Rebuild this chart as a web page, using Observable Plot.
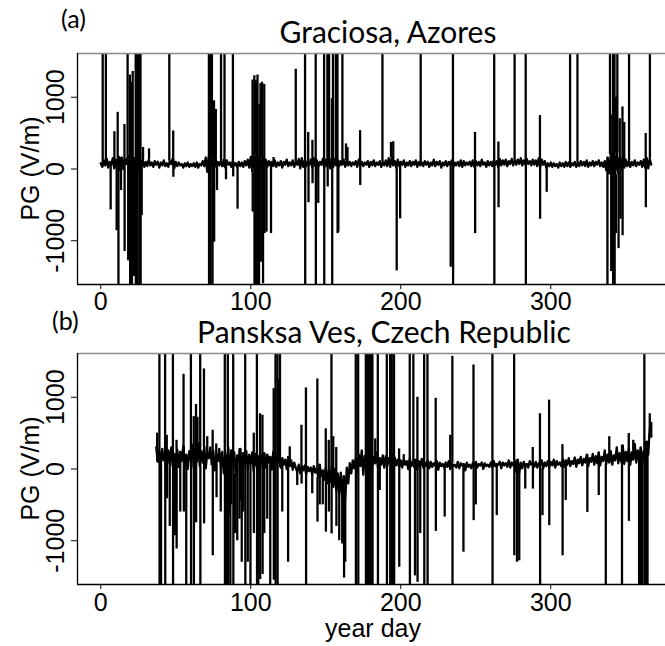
<!DOCTYPE html>
<html><head><meta charset="utf-8">
<script src="https://cdn.jsdelivr.net/npm/d3@7"></script>
<script src="https://cdn.jsdelivr.net/npm/@observablehq/plot@0.6"></script>
<style>
body{margin:0;background:#fff;}
#wrap{position:relative;width:665px;height:646px;overflow:hidden;background:#fff;}
.pane{position:absolute;left:0;}
#over{position:absolute;left:0;top:0;pointer-events:none;}
</style></head><body><div id="wrap"></div>
<script>
const xTicks = [0, 100, 200, 300];
const yTicks = [-1000, 0, 1000];
const xDomain = [-15.5, 376.5];
const yDomain = [-1610, 1610];

// Panel (a) Graciosa: daily PG values from day 0
const startA = 0;
const baseA = [
 80,30,120,50,140,20,100,60,150,10,
 130,40,170,-20,160,0,140,70,180,-40,
 190,-10,150,30,200,-30,160,60,120,30,
 100,40,130,50,90,30,110,60,100,20,
 90,50,120,40,80,30,110,70,150,10,
 100,40,90,50,70,20,80,40,90,30,
 70,40,80,30,90,20,70,50,110,40,
 160,-40,180,10,140,60,120,30,100,50,
 110,40,130,20,120,60,90,30,110,50,
 80,20,100,40,90,30,110,50,130,20,
 170,-30,190,-60,200,-40,150,20,160,10,
 130,30,110,50,100,40,120,30,90,50,
 110,20,100,60,130,40,90,50,120,30,
 100,60,140,10,150,30,120,40,110,60,
 130,20,150,40,120,30,100,60,140,20,
 130,40,160,10,170,30,140,50,120,40,
 110,60,130,30,120,50,100,40,90,60,
 110,30,130,50,100,40,90,60,110,30,
 100,50,120,40,90,60,110,30,100,50,
 120,40,150,30,160,50,110,20,130,40,
 100,60,120,30,90,50,110,40,100,60,
 120,30,100,50,90,40,110,60,100,30,
 90,50,130,40,100,60,110,20,90,50,
 110,40,100,60,120,30,90,50,100,40,
 120,30,110,50,90,60,100,40,120,30,
 110,50,100,40,130,60,90,30,110,50,
 100,40,120,60,110,30,140,50,120,60,
 130,40,110,70,140,50,120,60,130,70,
 150,50,120,60,140,70,110,50,130,60,
 120,40,150,30,130,60,110,20,80,40,
 90,30,80,40,70,20,90,40,80,30,
 100,40,90,30,80,50,100,30,90,40,
 110,50,100,40,120,30,90,50,110,40,
 100,60,120,40,90,30,110,-20,160,-60,
 200,-100,240,-80,220,-50,180,0,160,20,
 130,40,110,30,100,50,120,40,90,60,
 110,30,130,20,150,10,140,60
];
// spikes (a): [year day, PG]
const spikesA = [
 [1.3,2500],[3.4,2500],[6.6,-570],[9.1,520],[10.6,-860],[11.3,790],[11.8,-2500],[13.5,-300],
 [15.8,620],[15.9,-1150],[17.9,2500],[18.3,-1280],[19.4,1310],[19.6,-2500],[20.3,1210],[20.8,-2500],[21.3,1360],[22.1,-1500],
 [23.3,2500],[23.4,-2500],[24.3,2500],[24.5,-2500],[25.4,2500],[25.8,-1900],[26.5,2500],[26.6,-2500],[27.3,-650],[28.2,300],
 [32.2,280],[45.7,2500],[48.3,530],[48.4,-115],
 [72.1,2500],[72.2,-2500],[73,2500],[73.2,-2500],[74.1,2500],[74.5,-1700],[75.5,950],[75.6,-1020],[76.7,830],[77.5,-300],
 [80.2,2500],[82.5,2500],[83.5,-150],[88.1,2500],[88.3,-110],[91.2,-560],
 [101.2,1240],[101.3,-600],[102.4,1300],[102.5,-2500],[103.5,1230],[103.6,-2500],[104.5,1310],[104.7,-2500],[105.5,-2500],[105.8,900],
 [106.5,1190],[106.7,-1300],[107.5,1210],[108.2,-1600],[109,1180],[109.2,-900],[110.5,-880],[113.5,-900],[115.2,160],
 [130,1390],[136.2,2500],[136.3,-2500],[138.3,510],[138.5,-470],[141.1,400],[141.2,-205],[143.3,2500],[143.4,-2500],[145,-480],
 [148.9,2500],[149,-2500],[151.1,2500],[151.3,-250],[152.2,2500],[154.1,980],[154.3,-2500],[154.8,2500],[156.7,2500],[157.8,2500],[157.9,-900],[158.4,-880],
 [161.1,2500],[163.5,350],[164.5,300],[172.9,535],[173,-230],[187.8,2500],[193.5,370],[195,380],[197.3,-1420],[199.6,-695],
 [213.3,2500],[233.3,-1370],[234.8,2500],[234.9,-2500],[249.5,510],[249.6,-900],[262.3,2500],[262.4,-2500],[265.1,376],[265.2,-540],
 [275.9,2500],[283.3,2500],[283.4,-2500],[292.8,745],[292.9,-700],[297.3,-325],[312.9,2500],[317.8,2500],
 [337.8,-2500],[339.5,2500],[340.3,-1430],[341,750],[341.5,2500],[341.6,-2500],[342.5,2500],[342.6,-2500],[343.4,-900],[343.6,1000],[344.4,2500],
 [345.2,-1110],[346,700],[346.5,-700],[347.8,865],[347.9,-930],[349,650],[352.2,2500],[363.3,495],[363.4,-540],[366.1,2500]
];

// Panel (b) Pansksa Ves: daily PG values from day 37
const startB = 37;
const baseB = [
 300,100,250,
 50,280,120,230,20,260,80,300,40,210,
 90,270,30,240,110,320,60,200,0,250,
 120,340,20,280,100,360,40,250,90,310,
 10,230,150,300,60,260,-20,200,110,280,
 30,240,-60,200,80,300,-100,260,50,230,
 -80,190,100,280,-40,220,60,250,10,200,
 80,230,-30,210,40,180,-60,190,70,220,
 20,200,90,170,-10,240,50,180,100,160,
 20,150,60,130,0,170,40,120,-10,90,
 20,-40,60,-60,40,-20,50,-70,30,-30,
 20,-80,40,-50,10,-120,60,-100,-20,-150,
 30,-200,-20,-180,50,-250,0,-300,-60,-350,
 -50,-400,-100,-450,20,-200,80,-60,120,10,
 150,-50,200,40,260,-80,180,60,250,-20,
 200,30,170,80,230,0,150,60,190,20,
 180,40,150,90,210,10,160,50,130,30,
 120,20,140,60,110,0,150,40,100,30,
 130,-10,110,50,140,20,90,40,120,10,
 100,30,80,50,110,-10,90,40,70,20,
 90,30,110,0,80,40,60,20,100,10,
 80,50,70,-20,90,30,60,10,80,40,
 100,20,70,50,90,0,80,40,60,30,
 90,20,110,40,70,60,100,10,90,50,
 80,30,120,20,90,50,110,-40,130,-60,
 90,10,100,40,70,20,110,60,90,30,
 100,20,80,50,120,10,90,40,110,30,
 100,50,130,20,110,60,90,40,140,30,
 120,60,150,40,110,70,160,30,130,80,
 170,50,140,90,200,40,150,100,210,60,
 180,80,230,50,170,110,260,70,200,90,
 250,60,190,120,300,80,220,100,330,70,
 240,110,290,60,230,130,350,90,260,120,
 300,80,250,150,380,200,600,450
];
// spikes (b): [year day, PG]
const spikesB = [
 [37.6,500],[39.1,2500],[39.2,-2500],[40.2,-2500],[42.9,2500],[43,-2500],[44,470],[44.2,-415],[46,-800],
 [48.1,2500],[48.2,-2500],[49.5,-930],[50.5,400],[50.6,-1115],[53,-600],[55.2,1320],[55.4,-600],[57,-2500],
 [60.1,2500],[60.2,-2500],[62,730],[62.1,-2500],[63.5,900],[63.6,-750],[64.5,720],[66.3,2500],[66.4,-2500],[68.8,1395],[68.9,-765],
 [71,450],[74.6,540],[74.7,-1210],[77,350],[77.2,-400],[80,-600],
 [82.7,2500],[82.8,-2500],[83.6,-2500],[84.7,2500],[84.8,-2500],[85.5,-650],[86.4,-2500],[87,-500],[88.3,2500],[88.4,-2500],[89.5,-900],[91,-1000],[92.5,-700],[93,-450],[94,-1300],[95,-600],
 [96.3,2500],[96.4,-2500],[98,-1300],[99.8,-2500],[102,500],[102.1,-900],[104.1,2500],[104.2,-2500],[105,-2500],[106.2,770],[106.3,-1540],
 [107.8,750],[107.9,-1470],[109,-900],[111,-700],[113,-2500],[115.3,1120],[115.4,-1550],[116.5,2500],[116.6,-2500],[117.8,2500],[117.9,-2500],[118.5,1240],[119.5,2500],
 [121,-600],[124.9,-1300],[126,310],[131,-230],[133.8,610],[133.9,-210],[136.8,1130],[136.9,-2500],[141,-345],[144.4,1255],[144.5,-740],
 [146,-500],[148,-500],[150,560],[150.1,-880],[152,400],[152.1,-600],[153.8,2500],[153.9,-905],[155,450],[157,300],[157.1,-800],[159,-1000],
 [161,-1045],[162.2,-1520],[163,-1300],
 [170,2500],[170.1,-2500],[171.6,2500],[171.7,-2500],[176.7,2500],[176.8,-2500],[177.6,2500],[177.7,-2500],[178.5,2500],[178.6,-2500],
 [179.5,2500],[179.6,-2500],[180.4,2500],[180.5,-2500],[181.1,2500],[181.2,-2500],[183,420],[184.7,2500],[184.8,-2500],[186,-300],
 [190.7,2500],[190.8,-2500],[192.9,2500],[193,-2500],[194,2500],[194.1,-2500],[195.5,2500],[195.6,-2500],[198.9,280],[199,-1370],[202,200],
 [206,2500],[206.1,-2500],[208.4,2500],[209.5,-1490],[211.1,1000],[211.2,-1580],[213,-900],[215.6,2500],[215.7,-2500],[217.8,2500],[217.9,-2500],
 [223.3,985],[223.4,-870],[229.3,-670],[233,470],[234.4,1570],[234.5,-2500],[241.8,-1160],[248.5,1450],[248.6,-720],[250,-500],
 [261.1,2500],[261.2,-2500],[264,-650],[275.6,2500],[275.7,-1210],[277.5,-1300],[279,-1280],[283,-280],[288,300],[288.1,-280],
 [292.8,770],[292.9,-2500],[294.5,-650],[298.9,960],[299,-790],[307.8,340],[307.9,-1210],[310,-440],[324.4,-605],[332,-370],
 [336.7,-2500],[339,450],[347.5,-2500],[352,495],[352.1,-730],[355,400],[358.9,-2500],[360,-2500],[361,-2500],[362.4,2500],[362.5,-2500],[363.5,-2500],[364.5,-1800],[366,770],[367,650]
];

function panel(base, start, spikes, opts) {
  const series = base.map((v, i) => ({day: start + i, pg: v}));
  const sp = spikes.map(([d, v]) => ({
    day: d, pg: v,
    b: base[Math.min(base.length - 1, Math.max(0, Math.round(d - start)))]
  }));
  return Plot.plot({
    width: 665, height: opts.height,
    marginLeft: 77, marginRight: 0, marginTop: opts.marginTop, marginBottom: opts.marginBottom,
    style: {background: "transparent", fontFamily: "'Liberation Sans', Arial, sans-serif", color: "#000", overflow: "visible"},
    x: {domain: xDomain},
    y: {domain: yDomain},
    marks: [
      Plot.ruleX(sp, {x: "day", y1: "b", y2: "pg", stroke: "#000", strokeWidth: 2.3, clip: true}),
      Plot.line(series, {x: "day", y: "pg", stroke: "#000", strokeWidth: 2.3, clip: true}),
      Plot.ruleY([yDomain[1]], {stroke: "#8a8a8a", strokeWidth: 1.3}),
      Plot.ruleY([yDomain[0]], {stroke: "#000", strokeWidth: 1.3}),
      Plot.ruleX([xDomain[0]], {stroke: "#000", strokeWidth: 1.3}),
      Plot.axisX({ticks: xTicks, tickSize: 5, tickPadding: opts.tickPad, fontSize: 25, label: null, tickFormat: d => String(d)}),
      Plot.axisY({ticks: yTicks, tickSize: 6, tickFormat: () => "", label: null}),
      Plot.text(yTicks, {y: d => d, frameAnchor: "left", text: d => String(d), rotate: -90,
        textAnchor: "middle", lineAnchor: "bottom", dx: -14, fontSize: 25})
    ]
  });
}

const wrap = document.getElementById("wrap");
const pa = document.createElement("div"); pa.className = "pane"; pa.style.top = "0px";
pa.appendChild(panel(baseA, startA, spikesA, {height: 318, marginTop: 53, marginBottom: 34, tickPad: 3}));
wrap.appendChild(pa);
const pb = document.createElement("div"); pb.className = "pane"; pb.style.top = "318px";
pb.appendChild(panel(baseB, startB, spikesB, {height: 328, marginTop: 35, marginBottom: 62, tickPad: 4}));
wrap.appendChild(pb);

const over = d3.select(wrap).append("svg").attr("id", "over").attr("width", 665).attr("height", 646);
const labels = [
  {t: "(a)", x: 61, y: 28, size: 25, font: "Lato", anchor: "start"},
  {t: "Graciosa, Azores", x: 388, y: 43, size: 30, font: "Lato", anchor: "middle"},
  {t: "(b)", x: 52, y: 330, size: 25, font: "Lato", anchor: "start"},
  {t: "Pansksa Ves, Czech Republic", x: 384, y: 343, size: 30, font: "Lato", anchor: "middle"},
  {t: "year day", x: 373, y: 637, size: 25, font: "'Liberation Sans', Arial", anchor: "middle"}
];
labels.forEach(l => over.append("text").attr("x", l.x).attr("y", l.y)
  .attr("font-family", l.font).attr("font-size", l.size).attr("text-anchor", l.anchor)
  .attr("fill", "#000").text(l.t));
[168.5, 468.5].forEach(cy => over.append("text")
  .attr("transform", `translate(39,${cy}) rotate(-90)`)
  .attr("font-family", "'Liberation Sans', Arial").attr("font-size", 25)
  .attr("text-anchor", "middle").attr("fill", "#000").text("PG (V/m)"));
</script></body></html>
